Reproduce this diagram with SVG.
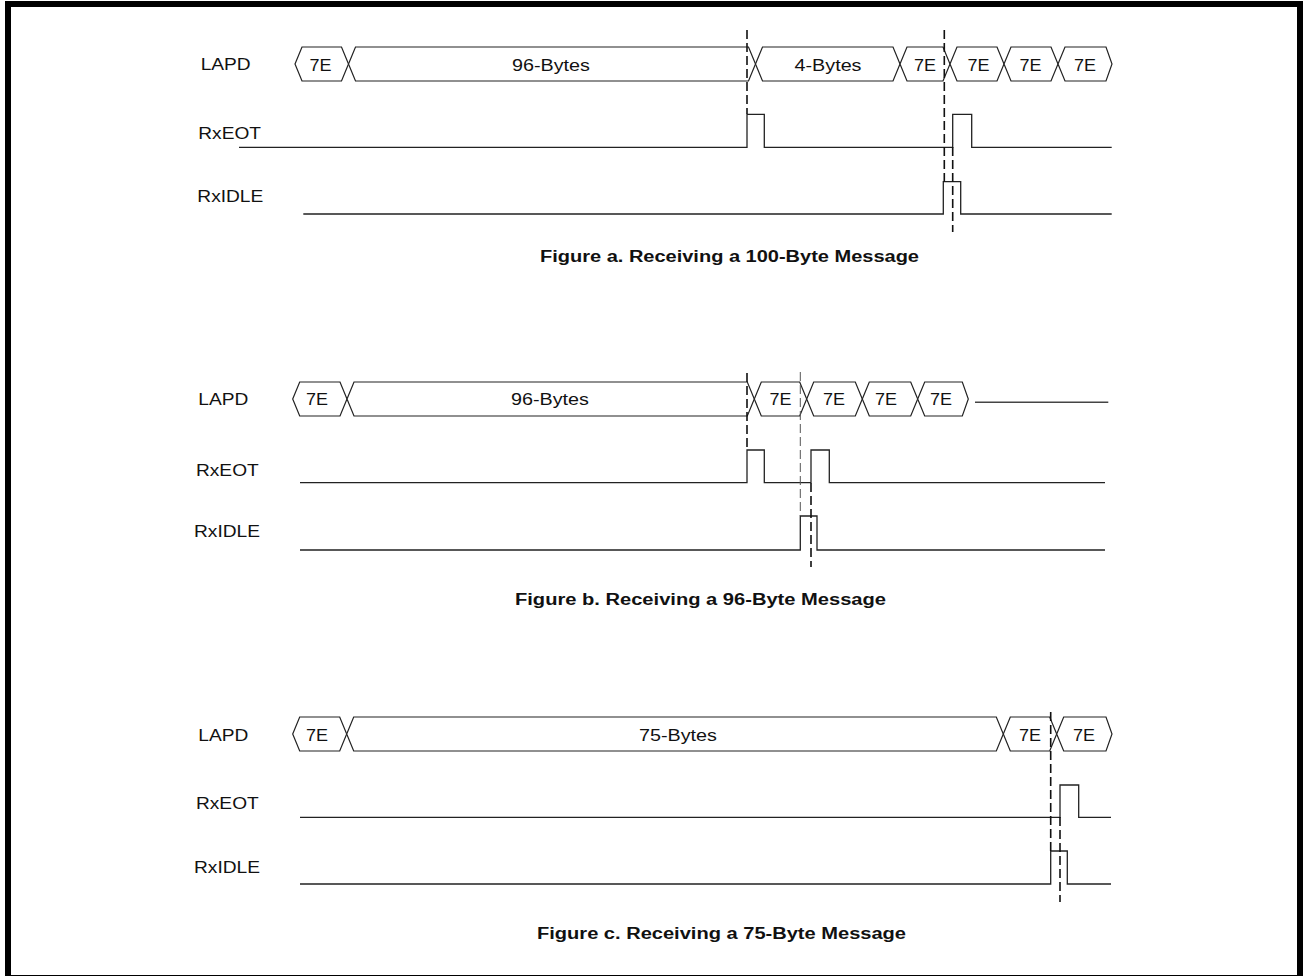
<svg xmlns="http://www.w3.org/2000/svg" width="1303" height="976" viewBox="0 0 1303 976">
<style>
.lbl{font-family:"Liberation Sans",Arial,sans-serif;font-size:17px;fill:#111}
.hx{font-family:"Liberation Sans",Arial,sans-serif;font-size:16.5px;fill:#111;text-anchor:middle}
.cap{font-family:"Liberation Sans",Arial,sans-serif;font-size:16px;font-weight:bold;fill:#111}
.box{fill:#fff;stroke:#222;stroke-width:1.2}
.wave{fill:none;stroke:#222;stroke-width:1.3}
.dash{fill:none;stroke:#111;stroke-width:1.6;stroke-dasharray:9 4}
.dashl{fill:none;stroke:#555;stroke-width:1;stroke-dasharray:9 4}
.tail{fill:none;stroke:#444;stroke-width:1.6}
</style>
<rect x="8" y="4" width="1292" height="974" fill="#fff" stroke="#000" stroke-width="6"/>

<!-- Figure a -->
<g id="fig-a">
  <g id="a-labels">
    <text class="lbl" x="200.7" y="70" textLength="50" lengthAdjust="spacingAndGlyphs">LAPD</text>
    <text class="lbl" x="198.3" y="139" textLength="62.7" lengthAdjust="spacingAndGlyphs">RxEOT</text>
    <text class="lbl" x="197.3" y="201.7" textLength="66" lengthAdjust="spacingAndGlyphs">RxIDLE</text>
  </g>
  <g id="a-lapd">
    <polygon class="box" points="295,64 302,47 341.5,47 348.5,64 341.5,81 302,81"/>
    <polygon class="box" points="348.5,64 355.5,47 748.5,47 755.5,64 748.5,81 355.5,81"/>
    <polygon class="box" points="755.5,64 762.5,47 893,47 900,64 893,81 762.5,81"/>
    <polygon class="box" points="900,64 907,47 943,47 950,64 943,81 907,81"/>
    <polygon class="box" points="950,64 957,47 997,47 1004,64 997,81 957,81"/>
    <polygon class="box" points="1004,64 1011,47 1051,47 1058,64 1051,81 1011,81"/>
    <polygon class="box" points="1058,64 1065,47 1106,47 1112,64 1106,81 1065,81"/>
    <text class="hx" x="320.5" y="71" textLength="22" lengthAdjust="spacingAndGlyphs">7E</text>
    <text class="hx" x="551" y="71" textLength="78" lengthAdjust="spacingAndGlyphs">96-Bytes</text>
    <text class="hx" x="828" y="71" textLength="67" lengthAdjust="spacingAndGlyphs">4-Bytes</text>
    <text class="hx" x="925" y="71" textLength="22" lengthAdjust="spacingAndGlyphs">7E</text>
    <text class="hx" x="978.5" y="71" textLength="22" lengthAdjust="spacingAndGlyphs">7E</text>
    <text class="hx" x="1030.5" y="71" textLength="22" lengthAdjust="spacingAndGlyphs">7E</text>
    <text class="hx" x="1085" y="71" textLength="22" lengthAdjust="spacingAndGlyphs">7E</text>
  </g>
  <g id="a-rxeot"><path class="wave" d="M239,147.3 H747 V114.3 H764.3 V147.3 H952.7 V114.3 H971.7 V147.3 H1111.7"/></g>
  <g id="a-rxidle"><path class="wave" d="M303.3,214 H943.3 V181.7 H960.7 V214 H1111.7"/></g>
  <g id="a-connectors">
    <path class="dash" d="M747,30 V114"/>
    <path class="dash" d="M944.3,30 V181.7"/>
    <path class="dash" d="M952.7,147 V232"/>
  </g>
  <text class="cap" x="540" y="261.7" textLength="379" lengthAdjust="spacingAndGlyphs">Figure a. Receiving a 100-Byte Message</text>
</g>

<!-- Figure b -->
<g id="fig-b">
  <g id="b-labels">
    <text class="lbl" x="198.3" y="405" textLength="50" lengthAdjust="spacingAndGlyphs">LAPD</text>
    <text class="lbl" x="196" y="476" textLength="62.7" lengthAdjust="spacingAndGlyphs">RxEOT</text>
    <text class="lbl" x="194" y="536.7" textLength="66" lengthAdjust="spacingAndGlyphs">RxIDLE</text>
  </g>
  <g id="b-lapd">
    <polygon class="box" points="292.7,399 299.7,382 340,382 347,399 340,416 299.7,416"/>
    <polygon class="box" points="347,399 354,382 747.3,382 754.3,399 747.3,416 354,416"/>
    <polygon class="box" points="754.3,399 761.3,382 799.7,382 806.7,399 799.7,416 761.3,416"/>
    <polygon class="box" points="806.7,399 813.7,382 855.3,382 862.3,399 855.3,416 813.7,416"/>
    <polygon class="box" points="862.3,399 869.3,382 910.7,382 917.7,399 910.7,416 869.3,416"/>
    <polygon class="box" points="917.7,399 924.7,382 962.3,382 968.3,399 962.3,416 924.7,416"/>
    <path class="tail" d="M975,402.3 H1108.3"/>
    <text class="hx" x="317" y="405" textLength="22" lengthAdjust="spacingAndGlyphs">7E</text>
    <text class="hx" x="550" y="405" textLength="78" lengthAdjust="spacingAndGlyphs">96-Bytes</text>
    <text class="hx" x="780.5" y="405" textLength="22" lengthAdjust="spacingAndGlyphs">7E</text>
    <text class="hx" x="834" y="405" textLength="22" lengthAdjust="spacingAndGlyphs">7E</text>
    <text class="hx" x="886" y="405" textLength="22" lengthAdjust="spacingAndGlyphs">7E</text>
    <text class="hx" x="941" y="405" textLength="22" lengthAdjust="spacingAndGlyphs">7E</text>
  </g>
  <g id="b-rxeot"><path class="wave" d="M300,482.7 H747 V450 H764.3 V482.7 H811 V450 H829.3 V482.7 H1105"/></g>
  <g id="b-rxidle"><path class="wave" d="M300,550 H800.3 V516 H817 V550 H1105"/></g>
  <g id="b-connectors">
    <path class="dash" d="M747,373 V450"/>
    <path class="dashl" d="M800.3,372 V516"/>
    <path class="dash" d="M811,483 V567"/>
  </g>
  <text class="cap" x="515" y="604.5" textLength="371" lengthAdjust="spacingAndGlyphs">Figure b. Receiving a 96-Byte Message</text>
</g>

<!-- Figure c -->
<g id="fig-c">
  <g id="c-labels">
    <text class="lbl" x="198.3" y="741" textLength="50" lengthAdjust="spacingAndGlyphs">LAPD</text>
    <text class="lbl" x="196" y="809.3" textLength="62.7" lengthAdjust="spacingAndGlyphs">RxEOT</text>
    <text class="lbl" x="194" y="873.3" textLength="66" lengthAdjust="spacingAndGlyphs">RxIDLE</text>
  </g>
  <g id="c-lapd">
    <polygon class="box" points="292.7,734 299.7,717 339.7,717 346.7,734 339.7,751 299.7,751"/>
    <polygon class="box" points="346.7,734 353.7,717 996.3,717 1003.3,734 996.3,751 353.7,751"/>
    <polygon class="box" points="1003.3,734 1010.3,717 1049.7,717 1056.7,734 1049.7,751 1010.3,751"/>
    <polygon class="box" points="1056.7,734 1063.7,717 1106,717 1112,734 1106,751 1063.7,751"/>
    <text class="hx" x="317" y="741" textLength="22" lengthAdjust="spacingAndGlyphs">7E</text>
    <text class="hx" x="678" y="741" textLength="78" lengthAdjust="spacingAndGlyphs">75-Bytes</text>
    <text class="hx" x="1030" y="741" textLength="22" lengthAdjust="spacingAndGlyphs">7E</text>
    <text class="hx" x="1084" y="741" textLength="22" lengthAdjust="spacingAndGlyphs">7E</text>
  </g>
  <g id="c-rxeot"><path class="wave" d="M300,817.3 H1060 V785 H1078.7 V817.3 H1111"/></g>
  <g id="c-rxidle"><path class="wave" d="M300,884 H1050.7 V851 H1067.3 V884 H1111"/></g>
  <g id="c-connectors">
    <path class="dash" d="M1050.7,712 V851"/>
    <path class="dash" d="M1060,817 V902"/>
  </g>
  <text class="cap" x="537" y="939" textLength="369" lengthAdjust="spacingAndGlyphs">Figure c. Receiving a 75-Byte Message</text>
</g>
</svg>
